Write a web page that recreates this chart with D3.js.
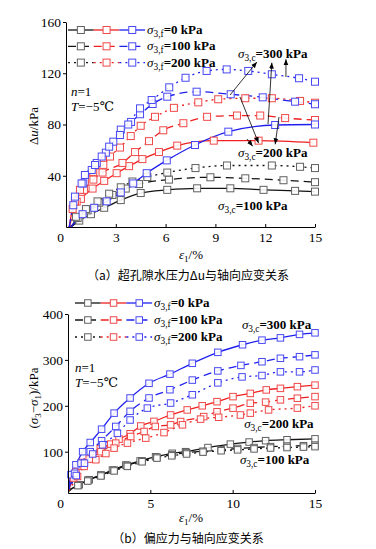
<!DOCTYPE html>
<html>
<head>
<meta charset="utf-8">
<script src="https://cdn.jsdelivr.net/npm/d3@7"></script>
<style>
  body { margin: 0; background: #fff; }
  text { font-family: 'Liberation Serif', 'Times New Roman', 'DejaVu Serif', serif; fill: #000; }
  text.cap { font-family: 'Noto Sans CJK SC', sans-serif; }
</style>
</head>
<body>
<svg id="chart" width="376" height="549"></svg>
<script>
// ---- data: (a) excess pore pressure du vs axial strain ----
// naming: c = sigma3,c (confining), f = sigma3,f (freezing)
const duE_c100_f0 = [0.3, 0.8, 1.5, 2.3, 3.3, 4.5, 6.1, 7.9, 9.9, 11.9, 13.8, 15]
const du_c100_f0 = [0, 5, 10, 15, 21, 26.5, 29, 30.2, 30.2, 29, 28.2, 27.6]
const duE_c100_f100 = [0.3, 0.7, 1.3, 2.0, 2.8, 3.6, 4.4, 6.2, 8.7, 10.8, 13.1, 15]
const du_c100_f100 = [0, 7, 13, 19, 25, 30, 33.5, 37, 38.8, 38, 36.5, 35]
const duE_c100_f200 = [0.3, 0.6, 1.2, 1.9, 2.6, 3.3, 4.0, 4.9, 6.1, 7.8, 9.7, 12.4, 14.1, 15]
const du_c100_f200 = [0, 8, 14, 20, 26, 31, 35.5, 39, 42.5, 46, 48, 48, 47, 46]

const duE_c200_f0 = [0.2, 0.4, 0.9, 1.6, 2.3, 3.05, 3.8, 4.6, 5.6, 6.7, 8.9, 11.6, 14.9]
const du_c200_f0 = [0, 14, 22, 30, 36, 42, 47.5, 53, 58.5, 63.5, 67.4, 67.4, 65.8]
const duE_c200_f100 = [0.2, 0.64, 1.08, 1.65, 2.2, 3.4, 4.16, 5.0, 5.86, 7.07, 8.5, 10.3, 11.7, 13.2, 15]
const du_c200_f100 = [0, 19.8, 29, 37, 42.5, 50, 58.5, 67, 75.5, 81, 86, 87, 87, 85, 83.5]
const duE_c200_f200 = [0.2, 0.54, 0.84, 1.14, 1.64, 2.25, 2.65, 3.25, 3.9, 4.5, 5.36, 6.5, 7.97, 9.17, 10.8, 12.4, 14.1, 15]
const du_c200_f200 = [0, 20, 29, 35.5, 43, 48.5, 55, 62, 71, 79, 86, 93, 97.3, 99.7, 100.5, 100.5, 98.4, 97]

const duE_c300_f0 = [0.3, 1.0, 1.7, 2.45, 3.3, 4.05, 4.86, 6.07, 7.77, 9.78, 12.6, 15]
const du_c300_f0 = [0, 10, 15, 20, 27, 34, 42, 52, 64, 74.4, 79.6, 80]
const duE_c300_f100 = [0.2, 0.44, 1.04, 1.55, 1.85, 2.4, 2.85, 3.3, 3.92, 4.46, 5.22, 6.1, 7.87, 9.92, 11.85, 13.8, 15]
const du_c300_f100 = [0, 17, 34, 44.5, 50, 58, 66.6, 76, 82, 88, 96, 101.7, 105.6, 103.6, 101.2, 97.8, 95.8]
const duE_c300_f200 = [0.2, 0.54, 0.94, 1.14, 1.75, 2.15, 2.6, 3.25, 3.75, 4.46, 5.16, 6.22, 7.2, 8.47, 9.68, 10.98, 12.4, 14.04, 15]
const du_c300_f200 = [0, 23.7, 34, 40.6, 48.4, 55, 62.7, 71.8, 80, 92.6, 99.1, 109, 116.5, 121.8, 123, 121.8, 119.2, 116.1, 113.4]

// ---- data: (b) deviator stress vs axial strain ----
const qE_c100_f0 = [0.05, 0.68, 1.29, 2.0, 2.7, 3.51, 4.38, 5.32, 6.33, 7.14, 8.5, 9.86, 11.0, 12.0, 13.3, 15]
const q_c100_f0 = [17, 28, 39, 49.3, 60, 71, 80, 89, 96.5, 100, 109, 116.5, 121, 124, 126, 128]
const qE_c100_f100 = [0.05, 0.6, 1.2, 2.0, 2.8, 3.6, 4.5, 5.4, 6.3, 7.2, 8.2, 9.3, 10.3, 11.3, 12.3, 13.3, 14.3, 15]
const q_c100_f100 = [15, 27, 38, 49, 60, 70, 80, 88, 93, 98, 101, 104, 107, 109, 111, 112, 113, 114]
const qE_c100_f200 = [0.05, 0.6, 1.2, 2.0, 2.8, 3.6, 4.5, 5.4, 6.3, 7.2, 8.2, 9.3, 10.3, 11.3, 12.3, 13.3, 14.3, 15]
const q_c100_f200 = [14, 26, 36, 47, 58, 68, 78, 86, 91, 95, 99, 102, 104, 106, 108, 109, 110, 111]

const qE_c200_f0 = [0.05, 0.48, 0.89, 1.49, 1.96, 2.6, 3.1, 3.77, 4.42, 5.22, 6.23, 7.24, 8.15, 9.05, 10.02, 11.07, 12.04, 12.9, 13.93, 15]
const q_c200_f0 = [20, 57, 76.5, 93, 106, 116.5, 127.4, 139, 156, 166, 180, 191, 200, 209, 220, 227, 234.6, 238, 241.7, 245]
const qE_c200_f100 = [0.05, 0.34, 0.79, 1.29, 2.0, 2.9, 3.81, 4.62, 5.3, 6.23, 6.84, 8.24, 9.05, 10.02, 11.07, 12.0, 12.9, 13.93, 15]
const q_c200_f100 = [18, 42.6, 68, 84, 100, 118.7, 133, 144, 155, 158.5, 165.7, 176.5, 187, 194.8, 205.6, 208, 213, 216.5, 220]
const qE_c200_f200 = [0.05, 0.58, 0.98, 1.69, 2.3, 2.8, 3.61, 4.72, 5.83, 6.95, 8.05, 9.15, 10.47, 11.07, 12.18, 13.93, 15]
const q_c200_f200 = [15, 46, 68, 82.5, 96, 107.8, 118.7, 129.6, 141.7, 158.5, 171, 175, 180, 184, 191, 195, 200]

const qE_c300_f0 = [0.05, 0.18, 0.48, 0.89, 1.35, 2.04, 2.8, 3.77, 4.92, 6.19, 7.55, 9.1, 10.6, 11.78, 12.9, 14.06, 15]
const q_c300_f0 = [25, 50, 71.5, 100, 120, 149, 184, 217, 249, 269, 292.6, 316.5, 333, 343, 348, 355.6, 359]
const qE_c300_f100 = [0.05, 0.4, 0.79, 1.35, 2.04, 2.9, 3.77, 4.92, 6.19, 7.55, 9.1, 10.5, 11.78, 12.9, 14.06, 15]
const q_c300_f100 = [20, 53, 75, 100, 124, 155, 188, 217, 235, 256, 276, 288, 296, 303.5, 307, 311]
const qE_c300_f200 = [0.05, 0.5, 1.0, 1.5, 2.1, 3.0, 3.77, 4.82, 6.23, 7.55, 9.1, 10.57, 11.78, 12.9, 14.06, 15]
const q_c300_f200 = [18, 48, 75, 95, 115, 140, 169, 195, 206, 224, 250, 263, 266, 274, 274, 278]

const xTicksTop = [0, 3, 6, 9, 12, 15]
const yTicksTop = [40, 80, 120, 160]
const xTicksBot = [0, 5, 10, 15]
const yTicksBot = [100, 200, 300, 400]
const freezeLevels = ['0', '100', '200']
const confineLevels = ['100', '200', '300']

const lineColor = { '100': '#141414', '200': '#ee2020', '300': '#2020ee' }
const markColor = { '100': '#606060', '200': '#f04848', '300': '#4848f4' }
const dashFor = { '0': null, '100': '8,5', '200': '2,4' }

const serif = "'Liberation Serif', 'Times New Roman', 'DejaVu Serif', serif"

const zip = (xs, ys) => xs.map((v, i) => [v, ys[i]])

const topSeries = [
  { c: '100', f: '0', pts: zip(duE_c100_f0, du_c100_f0) },
  { c: '100', f: '100', pts: zip(duE_c100_f100, du_c100_f100) },
  { c: '100', f: '200', pts: zip(duE_c100_f200, du_c100_f200) },
  { c: '200', f: '0', pts: zip(duE_c200_f0, du_c200_f0) },
  { c: '200', f: '100', pts: zip(duE_c200_f100, du_c200_f100) },
  { c: '200', f: '200', pts: zip(duE_c200_f200, du_c200_f200) },
  { c: '300', f: '0', pts: zip(duE_c300_f0, du_c300_f0) },
  { c: '300', f: '100', pts: zip(duE_c300_f100, du_c300_f100) },
  { c: '300', f: '200', pts: zip(duE_c300_f200, du_c300_f200) }
]
const botSeries = [
  { c: '100', f: '0', pts: zip(qE_c100_f0, q_c100_f0) },
  { c: '100', f: '100', pts: zip(qE_c100_f100, q_c100_f100) },
  { c: '100', f: '200', pts: zip(qE_c100_f200, q_c100_f200) },
  { c: '200', f: '0', pts: zip(qE_c200_f0, q_c200_f0) },
  { c: '200', f: '100', pts: zip(qE_c200_f100, q_c200_f100) },
  { c: '200', f: '200', pts: zip(qE_c200_f200, q_c200_f200) },
  { c: '300', f: '0', pts: zip(qE_c300_f0, q_c300_f0) },
  { c: '300', f: '100', pts: zip(qE_c300_f100, q_c300_f100) },
  { c: '300', f: '200', pts: zip(qE_c300_f200, q_c300_f200) }
]

const svg = d3.select('#chart')

const defs = svg.append('defs')
defs.append('marker')
  .attr('id', 'arrow')
  .attr('viewBox', '0 0 10 10')
  .attr('refX', 10)
  .attr('refY', 5)
  .attr('markerWidth', 6)
  .attr('markerHeight', 6)
  .attr('markerUnits', 'userSpaceOnUse')
  .attr('orient', 'auto')
  .append('path')
  .attr('d', 'M0,1 L10,5 L0,9 z')
  .attr('fill', '#000')

// sigma with subscript, e.g. σ3,c=300 kPa
function sigmaText (g, x, y, sub, rest, size) {
  const t = g.append('text')
    .attr('x', x)
    .attr('y', y)
    .attr('font-size', size)
    .attr('font-family', serif)
  t.append('tspan').attr('font-style', 'italic').text('σ')
  t.append('tspan').attr('font-size', size * 0.72).attr('dy', 3).text(sub)
  t.append('tspan').attr('dy', -3).attr('font-weight', 'bold').text(rest)
  return t
}

function drawPanel (cfg) {
  const { x, y, series, markSize } = cfg
  const g = svg.append('g')

  const line = d3.line()
    .x(d => x(d[0]))
    .y(d => y(d[1]))
    .curve(d3.curveMonotoneX)

  series.forEach(s => {
    g.append('path')
      .datum(s.pts)
      .attr('d', line)
      .attr('fill', 'none')
      .attr('stroke', lineColor[s.c])
      .attr('stroke-width', 1.3)
      .attr('stroke-dasharray', dashFor[s.f])
  })
  series.forEach(s => {
    g.selectAll(null)
      .data(s.pts.slice(1))
      .enter()
      .append('rect')
      .attr('x', d => x(d[0]) - markSize / 2)
      .attr('y', d => y(d[1]) - markSize / 2)
      .attr('width', markSize)
      .attr('height', markSize)
      .attr('fill', '#fff')
      .attr('fill-opacity', 0.9)
      .attr('stroke', markColor[s.c])
      .attr('stroke-width', 1)
  })

  // axes
  const yAxis = d3.axisLeft(y).tickValues(cfg.yTicks).tickSizeInner(3).tickSizeOuter(0).tickPadding(2)
  const xAxis = d3.axisBottom(x).tickValues(cfg.xTicks).tickSizeInner(-3).tickSizeOuter(0).tickPadding(5)

  const ya = g.append('g')
    .attr('transform', `translate(${x(0)},0)`)
    .call(yAxis)
  const xa = g.append('g')
    .attr('transform', `translate(0,${y.range()[0]})`)
    .call(xAxis)
  ;[ya, xa].forEach(a => {
    a.attr('font-family', serif)
    a.select('.domain').attr('stroke', '#000').attr('stroke-width', 1)
    a.selectAll('.tick line').attr('stroke', '#000')
    a.selectAll('.tick text')
      .attr('font-family', serif)
      .attr('font-size', 13.5)
      .attr('fill', '#000')
  })
  xa.selectAll('.tick text').filter(d => d === 0).attr('dx', cfg.zeroShift)
  xa.selectAll('.tick line').filter(d => d === 0).remove()

  // legend
  const lg = g.append('g')
  freezeLevels.forEach((f, i) => {
    const ly = cfg.legend.y + i * cfg.legend.step
    confineLevels.forEach((c, j) => {
      const x0 = cfg.legend.x + j * cfg.legend.seg
      lg.append('line')
        .attr('x1', x0).attr('x2', x0 + cfg.legend.seg)
        .attr('y1', ly).attr('y2', ly)
        .attr('stroke', lineColor[c])
        .attr('stroke-width', 1.3)
        .attr('stroke-dasharray', dashFor[f])
      lg.append('rect')
        .attr('x', x0 + cfg.legend.seg / 2 - markSize / 2)
        .attr('y', ly - markSize / 2)
        .attr('width', markSize).attr('height', markSize)
        .attr('fill', '#fff')
        .attr('stroke', markColor[c])
    })
    sigmaText(lg, cfg.legend.x + 3 * cfg.legend.seg + 2, ly + 4, '3,f', '=' + f + ' kPa', 13)
  })

  // n, T
  const nt = g.append('g').attr('font-size', 13).attr('font-family', serif)
  const n = nt.append('text').attr('x', cfg.nt.x).attr('y', cfg.nt.y)
  n.append('tspan').attr('font-style', 'italic').text('n')
  n.append('tspan').text('=1')
  const t = nt.append('text').attr('x', cfg.nt.x).attr('y', cfg.nt.y + 15)
  t.append('tspan').attr('font-style', 'italic').text('T')
  t.append('tspan').text('=−5℃')

  // sigma3,c labels
  cfg.labels.forEach(l => {
    sigmaText(g, x(l.e), y(l.v), '3,c', '=' + l.c + ' kPa', 13)
  })

  // axis titles
  const xt = g.append('text')
    .attr('x', cfg.xTitle.x)
    .attr('y', cfg.xTitle.y)
    .attr('text-anchor', 'middle')
    .attr('font-size', 13)
    .attr('font-family', serif)
  xt.append('tspan').attr('font-style', 'italic').text('ε')
  xt.append('tspan').attr('font-size', 9).attr('dy', 3).text('1')
  xt.append('tspan').attr('dy', -3).text('/%')

  g.append('text')
    .attr('class', 'cap')
    .attr('x', 188)
    .attr('y', cfg.caption.y)
    .attr('text-anchor', 'middle')
    .attr('font-size', 12)
    .text(cfg.caption.text)

  return g
}

// ---- panel (a) ----
const xTop = d3.scaleLinear().domain([0, 15]).range([66, 315])
const yTop = d3.scaleLinear().domain([0, 160]).range([227, 22])

const gTop = drawPanel({
  x: xTop,
  y: yTop,
  series: topSeries,
  markSize: 7,
  xTicks: xTicksTop,
  yTicks: yTicksTop,
  zeroShift: -6,
  legend: { x: 68, y: 30, step: 16.3, seg: 25.7 },
  nt: { x: 71, y: 96 },
  labels: [
    { e: 10.36, v: 132, c: '300' },
    { e: 10.36, v: 54.5, c: '200' },
    { e: 9.16, v: 13.3, c: '100' }
  ],
  xTitle: { x: 191, y: 259 },
  caption: { y: 280, text: '（a）超孔隙水压力Δu与轴向应变关系' }
})

// arrows from curves to sigma3,c labels (strain, du)
const arrowsTop = [
  [[9.88, 103], [11.5, 128.8]],
  [[12.17, 80.4], [12.4, 128.3]],
  [[13.25, 117], [13.25, 131]],
  [[10.48, 101.5], [11.6, 65.5]],
  [[12.83, 85.9], [12.6, 64.5]],
  [[10.9, 68.7], [11.25, 63]]
]
arrowsTop.forEach(a => {
  gTop.append('line')
    .attr('x1', xTop(a[0][0])).attr('y1', yTop(a[0][1]))
    .attr('x2', xTop(a[1][0])).attr('y2', yTop(a[1][1]))
    .attr('stroke', '#000')
    .attr('stroke-width', 0.8)
    .attr('marker-end', 'url(#arrow)')
})

const yt = gTop.append('text')
  .attr('transform', 'translate(38,126) rotate(-90)')
  .attr('text-anchor', 'middle')
  .attr('font-size', 13)
  .attr('font-family', serif)
yt.append('tspan').text('Δ')
yt.append('tspan').attr('font-style', 'italic').text('u')
yt.append('tspan').text('/kPa')

// ---- panel (b) ----
const xBot = d3.scaleLinear().domain([0, 15]).range([68, 315])
const yBot = d3.scaleLinear().domain([10, 400]).range([493, 314])

const gBot = drawPanel({
  x: xBot,
  y: yBot,
  series: botSeries,
  markSize: 6.5,
  xTicks: xTicksBot,
  yTicks: yTicksBot,
  zeroShift: -8,
  legend: { x: 75, y: 303, step: 17, seg: 25.7 },
  nt: { x: 75, y: 372 },
  labels: [
    { e: 10.56, v: 367, c: '300' },
    { e: 10.7, v: 152, c: '200' },
    { e: 10.44, v: 74, c: '100' }
  ],
  xTitle: { x: 191, y: 522 },
  caption: { y: 543, text: '（b）偏应力与轴向应变关系' }
})

const yb = gBot.append('text')
  .attr('transform', 'translate(38,398) rotate(-90)')
  .attr('text-anchor', 'middle')
  .attr('font-size', 13)
  .attr('font-family', serif)
yb.append('tspan').text('(')
yb.append('tspan').attr('font-style', 'italic').text('σ')
yb.append('tspan').attr('font-size', 9).attr('dy', 3).text('3')
yb.append('tspan').attr('dy', -3).text('−')
yb.append('tspan').attr('font-style', 'italic').text('σ')
yb.append('tspan').attr('font-size', 9).attr('dy', 3).text('1')
yb.append('tspan').attr('dy', -3).text(')/kPa')
</script>
</body>
</html>
